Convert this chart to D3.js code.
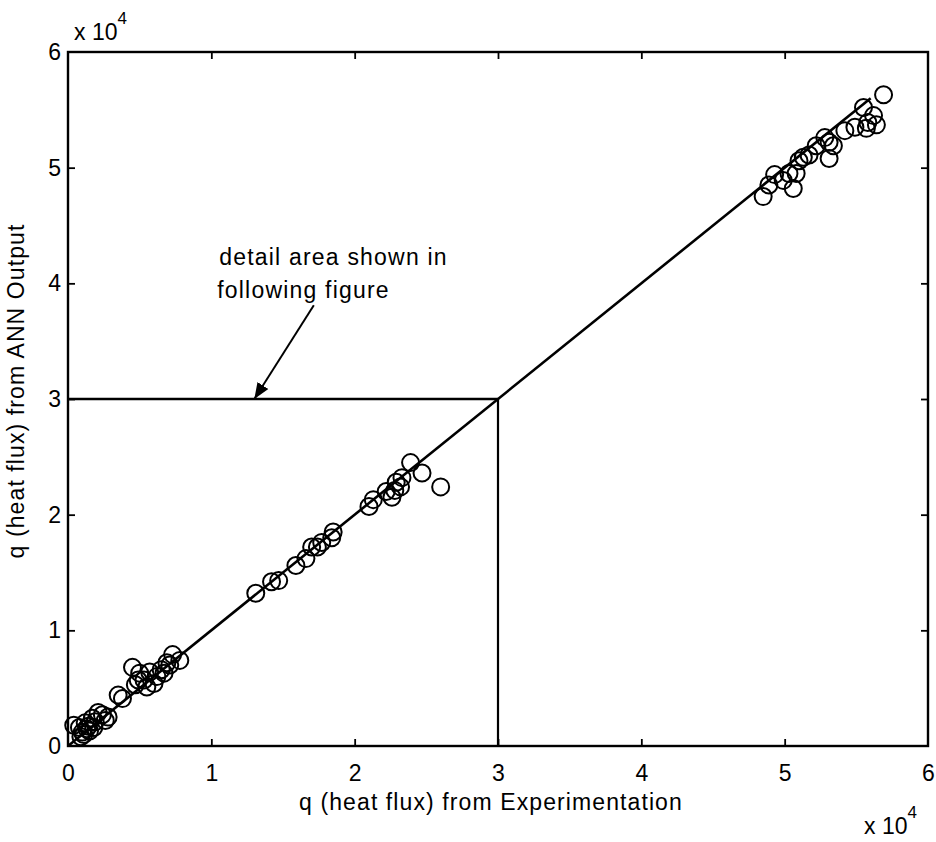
<!DOCTYPE html>
<html>
<head>
<meta charset="utf-8">
<script src="https://cdn.jsdelivr.net/npm/d3@7"></script>
<style>
  html, body { margin: 0; padding: 0; background: #fff; }
  svg { display: block; }
  text { font-family: "Liberation Sans", Arial, Helvetica, sans-serif; fill: #000; }
</style>
</head>
<body>
<svg id="chart" width="936" height="842"></svg>
<script>
// ---- data (values in heat-flux units) ----
const expX = [
  56900, 55500, 56200, 55800, 56400, 55700, 54900, 54200, 52800, 53100, 53400, 52200, 53100, 51300, 51700,
  50800, 50300, 49300, 49900, 48900, 50600, 48500, 51000,
  23900, 24700, 26000, 23300, 22900, 22800, 22600, 22200, 21300, 21000, 23200,
  18500, 18400, 17700, 17000, 16600, 15900, 14700, 14200, 13100, 17400,
  7300, 7800, 7100, 6500, 4500, 5000, 5700, 6200, 5300, 4900, 3500, 3800,
  2100, 2400, 1700, 1200, 800, 1000, 400, 1400, 1900, 6700, 6000, 1100, 1500, 900, 2600,
  1300, 1800, 2800, 5500, 6900, 4700
];
const annY = [
  56300, 55200, 54500, 53900, 53700, 53400, 53500, 53200, 52600, 52200, 51900, 51900, 50800, 50900, 51100,
  49500, 49500, 49400, 48900, 48500, 48200, 47500, 50600,
  24500, 23600, 22400, 23200, 22800, 22100, 21500, 22000, 21300, 20700, 22400,
  18500, 18000, 17600, 17200, 16200, 15600, 14300, 14200, 13200, 17200,
  7900, 7400, 7000, 6600, 6800, 6300, 6400, 6000, 5700, 5700, 4400, 4100,
  2900, 2700, 2400, 2000, 1600, 1200, 1800, 1700, 2100, 6300, 5400, 1000, 1300, 800, 2200,
  1500, 1600, 2500, 5100, 7200, 5300
];
const fitLine = [0, 56000];              // y = x reference line extent
const detailBox = [30000, 30000];        // detail-area corner (x, y)
const xTicks = [0, 10000, 20000, 30000, 40000, 50000, 60000];
const yTicks = [0, 10000, 20000, 30000, 40000, 50000, 60000];
const tickLabels = ["0", "1", "2", "3", "4", "5", "6"];
const noteLines = ["detail area shown in", "following figure"];
const noteAnchor = [10550, 41570];        // text start (x, y of first baseline)
const noteLine2Y = 38720;
const arrowFrom = [17150, 38100];
const arrowTo = [13000, 30000];
const xLabel = "q (heat flux) from Experimentation";
const yLabel = "q (heat flux) from ANN Output";

// ---- layout ----
const svg = d3.select("#chart");
const L = 68, R = 928, T = 52, B = 746;
const x = d3.scaleLinear().domain([0, 60000]).range([L, R]);
const y = d3.scaleLinear().domain([0, 60000]).range([B, T]);

// frame
svg.append("rect")
  .attr("x", L).attr("y", T).attr("width", R - L).attr("height", B - T)
  .attr("fill", "none").attr("stroke", "#000").attr("stroke-width", 2.4);

const fmt = (d, i) => tickLabels[i];
const styleAxis = g => {
  g.select(".domain").remove();
  g.selectAll(".tick line").attr("stroke", "#000").attr("stroke-width", 1.8);
  g.selectAll(".tick text").style("font-size", "23px").attr("fill", "#000");
};
const dropEnds = g => g.selectAll(".tick").filter(d => d === 0 || d === 60000).select("line").remove();

svg.append("g").attr("transform", `translate(0,${B})`)
  .call(d3.axisBottom(x).tickValues(xTicks).tickFormat(fmt).tickSizeInner(-7).tickSizeOuter(0).tickPadding(19))
  .call(styleAxis).call(dropEnds);
svg.append("g").attr("transform", `translate(0,${T})`)
  .call(d3.axisTop(x).tickValues(xTicks).tickFormat("").tickSizeInner(-7).tickSizeOuter(0))
  .call(styleAxis).call(dropEnds);
svg.append("g").attr("transform", `translate(${L},0)`)
  .call(d3.axisLeft(y).tickValues(yTicks).tickFormat(fmt).tickSizeInner(-7).tickSizeOuter(0).tickPadding(7))
  .call(styleAxis).call(dropEnds);
svg.append("g").attr("transform", `translate(${R},0)`)
  .call(d3.axisRight(y).tickValues(yTicks).tickFormat("").tickSizeInner(-7).tickSizeOuter(0))
  .call(styleAxis).call(dropEnds);

// exponent labels
const expo = (tx, ty) => {
  const t = svg.append("text").attr("x", tx).attr("y", ty).style("font-size", "23px");
  t.append("tspan").text("x 10");
  t.append("tspan").attr("dy", -16).style("font-size", "17px").text("4");
};
expo(74, 40);
expo(864, 834);

// axis titles
svg.append("text")
  .attr("x", 491).attr("y", 810)
  .attr("text-anchor", "middle")
  .style("font-size", "23px").style("letter-spacing", "1.1px")
  .text(xLabel);
svg.append("text")
  .attr("transform", `translate(24,${(T + B) / 2 - 8}) rotate(-90)`)
  .attr("text-anchor", "middle")
  .style("font-size", "23px").style("letter-spacing", "1.1px")
  .text(yLabel);

// detail area lines
svg.append("line")
  .attr("x1", x(0)).attr("y1", y(detailBox[1])).attr("x2", x(detailBox[0])).attr("y2", y(detailBox[1]))
  .attr("stroke", "#000").attr("stroke-width", 2.4);
svg.append("line")
  .attr("x1", x(detailBox[0])).attr("y1", y(detailBox[1])).attr("x2", x(detailBox[0])).attr("y2", y(0))
  .attr("stroke", "#000").attr("stroke-width", 2.2);

// y = x line
svg.append("line")
  .attr("x1", x(fitLine[0])).attr("y1", y(fitLine[0])).attr("x2", x(fitLine[1])).attr("y2", y(fitLine[1]))
  .attr("stroke", "#000").attr("stroke-width", 2.6);

// data circles
const pts = expX.map((v, i) => ({ x: v, y: annY[i] }));
svg.append("g").selectAll("circle").data(pts).join("circle")
  .attr("cx", d => x(d.x)).attr("cy", d => y(d.y)).attr("r", 8.5)
  .attr("fill", "none").attr("stroke", "#000").attr("stroke-width", 2);

// annotation
svg.append("text")
  .attr("x", x(noteAnchor[0])).attr("y", y(noteAnchor[1]))
  .style("font-size", "23px").style("letter-spacing", "1.2px")
  .text(noteLines[0]);
svg.append("text")
  .attr("x", x(noteAnchor[0]) - 2).attr("y", y(noteLine2Y))
  .style("font-size", "23px").style("letter-spacing", "1.2px")
  .text(noteLines[1]);

svg.append("defs").append("marker")
  .attr("id", "arr").attr("viewBox", "0 0 10 10").attr("refX", 10).attr("refY", 5)
  .attr("markerWidth", 16).attr("markerHeight", 16).attr("markerUnits", "userSpaceOnUse")
  .attr("orient", "auto")
  .append("path").attr("d", "M0,1 L10,5 L0,9 Z").attr("fill", "#000");
svg.append("line")
  .attr("x1", x(arrowFrom[0])).attr("y1", y(arrowFrom[1]))
  .attr("x2", x(arrowTo[0])).attr("y2", y(arrowTo[1]))
  .attr("stroke", "#000").attr("stroke-width", 2)
  .attr("marker-end", "url(#arr)");
</script>
</body>
</html>
